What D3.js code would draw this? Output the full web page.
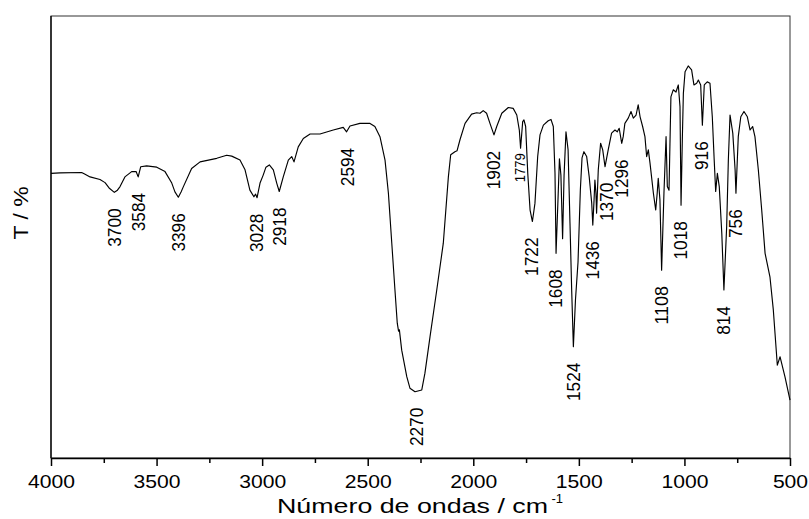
<!DOCTYPE html>
<html>
<head>
<meta charset="utf-8">
<script src="https://cdn.jsdelivr.net/npm/d3@7"></script>
<style>
    body { margin: 0; background: #fff; }
    text { font-family: "Liberation Sans", Arial, sans-serif; fill: #000; }
</style>
</head>
<body>
<div id="the_spectrum"></div>
<script>
// wavenumber (cm-1), high to low
let wavenumber = [4000, 3957, 3855, 3843, 3815, 3768, 3744, 3725, 3700, 3687, 3673, 3650, 3618, 3597, 3587, 3575,
    3547, 3499, 3460, 3428, 3413, 3397, 3384, 3373, 3334, 3294, 3215, 3168, 3144, 3105, 3081, 3058,
    3039, 3031, 3024, 3018, 3010, 2995, 2982, 2966, 2947, 2931, 2919, 2900, 2876, 2860, 2849, 2829,
    2805, 2773, 2726, 2663, 2616, 2600, 2584, 2537, 2489, 2466, 2442, 2418, 2402, 2386, 2371, 2360,
    2354, 2350, 2339, 2315, 2300, 2276, 2244, 2229, 2205, 2173, 2142, 2118, 2107, 2087, 2077, 2063,
    2039, 2008, 1984, 1968, 1953, 1937, 1921, 1902, 1889, 1865, 1834, 1811, 1794, 1782, 1776, 1766,
    1760, 1752, 1742, 1731, 1720, 1708, 1695, 1684, 1668, 1645, 1632, 1621, 1613, 1608, 1600, 1592,
    1585, 1577, 1570, 1561, 1551, 1542, 1534, 1526, 1516, 1504, 1493, 1485, 1476, 1463, 1451, 1439,
    1434, 1428, 1424, 1419, 1416, 1408, 1397, 1387, 1376, 1361, 1345, 1329, 1318, 1309, 1297, 1290,
    1282, 1266, 1253, 1242, 1229, 1219, 1210, 1198, 1187, 1179, 1171, 1163, 1147, 1136, 1129, 1124,
    1116, 1108, 1097, 1087, 1081, 1073, 1064, 1053, 1040, 1029, 1021, 1016, 1010, 1005, 997, 982,
    966, 955, 942, 934, 923, 915, 906, 892, 879, 868, 859, 852, 844, 835, 823, 813,
    800, 792, 784, 771, 760, 756, 745, 733, 718, 702, 689, 677, 666, 661, 650, 634,
    618, 595, 579, 560, 547, 524, 500];
// transmittance, arbitrary % scale
let transmittance = [64.4, 64.5, 64.6, 64.3, 63.6, 63.0, 62.3, 61.1, 60.1, 60.5, 61.4, 63.6, 64.8, 64.8, 63.6, 65.9,
    66.1, 65.8, 64.8, 62.2, 60.2, 59.0, 60.2, 61.4, 65.5, 67.0, 67.8, 68.5, 68.3, 67.4, 65.2, 60.6,
    59.1, 59.7, 58.9, 60.3, 62.2, 64.0, 65.8, 66.3, 65.2, 62.2, 60.3, 63.6, 67.4, 68.2, 67.0, 70.4,
    72.3, 73.3, 73.3, 74.2, 74.8, 73.8, 75.1, 75.7, 75.7, 75.0, 72.7, 67.4, 59.9, 48.6, 38.0, 30.5,
    28.7, 29.0, 24.4, 18.4, 15.8, 15.0, 15.4, 19.2, 27.4, 38.0, 48.6, 63.6, 68.6, 69.3, 69.5, 72.0,
    75.7, 77.8, 78.1, 78.0, 78.6, 78.0, 75.7, 73.1, 75.0, 78.0, 79.3, 79.1, 77.6, 74.2, 70.1, 76.1,
    76.5, 75.0, 64.4, 56.1, 53.5, 57.6, 68.2, 73.1, 75.3, 76.3, 76.6, 75.0, 64.4, 46.3, 56.9, 67.7,
    64.0, 49.6, 64.0, 73.8, 69.7, 53.1, 38.0, 25.2, 35.8, 44.3, 60.6, 67.9, 69.3, 68.2, 63.6, 57.6,
    52.7, 58.4, 62.9, 59.9, 55.4, 65.2, 71.2, 69.7, 65.9, 69.7, 73.5, 74.2, 73.8, 74.6, 71.2, 72.7,
    75.7, 76.9, 78.4, 76.9, 77.6, 79.9, 77.2, 75.0, 72.7, 68.2, 69.7, 66.7, 59.9, 56.1, 59.9, 63.3,
    58.4, 42.5, 59.9, 72.7, 61.4, 60.6, 81.7, 83.3, 82.8, 84.4, 79.5, 57.2, 72.0, 82.5, 87.4, 88.7,
    87.8, 84.4, 84.8, 85.5, 84.4, 75.3, 84.4, 85.1, 84.8, 77.2, 67.4, 60.3, 64.4, 61.4, 50.8, 38.0,
    52.3, 67.4, 77.6, 73.5, 65.2, 59.9, 72.7, 77.2, 78.4, 77.2, 74.2, 75.0, 72.7, 70.4, 65.2, 56.1,
    46.3, 41.0, 33.5, 21.0, 22.9, 18.4, 13.1];
// marked bands
let peakLabels = [3700, 3584, 3396, 3028, 2918, 2594, 2270, 1902, 1779, 1722, 1608, 1524, 1436, 1370, 1296,
    1108, 1018, 916, 814, 756];
let majorTicks = [4000, 3500, 3000, 2500, 2000, 1500, 1000, 500];
let minorTicks = [3750, 3250, 2750, 2250, 1750, 1250, 750];

gen_vis();

function gen_vis() {
    let margin = {top: 16, right: 19, bottom: 61, left: 51};
    let width = 809 - margin.left - margin.right;
    let height = 519 - margin.top - margin.bottom;

    let svg = d3.select("#the_spectrum")
        .append("svg")
        .attr("width", 809)
        .attr("height", 519)
        .append("g")
        .attr("transform", "translate(" + margin.left + "," + margin.top + ")");

    let x = d3.scaleLinear().domain([4000, 500]).range([0, width]);
    let y = d3.scaleLinear().domain([0, 100]).range([height, 0]);

    let data = wavenumber.map(function(d, i) { return {wn: d, t: transmittance[i]}; });

    // frame
    svg.append("rect")
        .attr("width", width)
        .attr("height", height)
        .style("fill", "none")
        .style("stroke", "#333")
        .style("stroke-width", 1);
    svg.append("line")
        .attr("x1", 0).attr("x2", 0)
        .attr("y1", 0).attr("y2", height)
        .style("stroke", "#000")
        .style("stroke-width", 1.3);

    // minor ticks
    svg.append("g")
        .attr("transform", "translate(0," + height + ")")
        .call(d3.axisBottom(x).tickValues(minorTicks).tickSize(5).tickFormat(""))
        .call(function(g) { g.select(".domain").remove(); })
        .selectAll("line").style("stroke", "#000").style("stroke-width", 1.5);

    let xAxis = svg.append("g")
        .attr("transform", "translate(0," + height + ")")
        .call(d3.axisBottom(x).tickValues(majorTicks).tickSize(8).tickSizeOuter(0).tickFormat(d3.format("d")));
    xAxis.select(".domain").style("stroke", "#000").style("stroke-width", 1.6);
    xAxis.selectAll("line").style("stroke", "#000").style("stroke-width", 1.5);
    xAxis.selectAll("text")
        .attr("y", 30)
        .attr("dy", null)
        .attr("textLength", function(d) { return String(d).length * 11.75; })
        .attr("lengthAdjust", "spacingAndGlyphs")
        .style("font-size", "18.5px")
        .style("font-family", "'Liberation Sans', Arial, sans-serif")
        .style("fill", "#000");

    // spectrum
    let line = d3.line()
        .x(function(d) { return x(d.wn); })
        .y(function(d) { return y(d.t); });
    svg.append("path")
        .datum(data)
        .attr("d", line)
        .style("fill", "none")
        .style("stroke", "#000")
        .style("stroke-width", 1.15)
        .style("stroke-linejoin", "round");

    // band labels, hung under the local minimum
    let smallLabel = {1779: true};
    svg.selectAll(".peakLabel")
        .data(peakLabels)
        .enter()
        .append("text")
        .attr("class", "peakLabel")
        .text(function(d) { return d; })
        .attr("transform", function(d) {
            let near = data.filter(function(p) { return Math.abs(p.wn - d) <= 15; });
            let tMin = d3.min(near, function(p) { return p.t; });
            let gap = smallLabel[d] ? 5 : 16;
            return "translate(" + x(d) + "," + (y(tMin) + gap) + ") rotate(-90)";
        })
        .attr("dy", "0.35em")
        .attr("textLength", function(d) { return smallLabel[d] ? 29 : String(d).length * 9.6; })
        .attr("lengthAdjust", "spacingAndGlyphs")
        .style("text-anchor", "end")
        .style("font-size", function(d) { return smallLabel[d] ? "15px" : "18px"; });

    // axis titles
    svg.append("text")
        .text("Número de ondas / cm")
        .attr("x", 226)
        .attr("y", height + 55)
        .attr("textLength", 271)
        .attr("lengthAdjust", "spacingAndGlyphs")
        .style("font-size", "20px");
    svg.append("text")
        .text("-1")
        .attr("x", 500.5)
        .attr("y", height + 45)
        .style("font-size", "13px");
    svg.append("text")
        .text("T / %")
        .attr("transform", "translate(" + (21 - margin.left) + "," + (213 - margin.top) + ") rotate(-90)")
        .attr("dy", "0.35em")
        .attr("textLength", 53)
        .attr("lengthAdjust", "spacingAndGlyphs")
        .style("text-anchor", "middle")
        .style("font-size", "20px");
}
</script>
</body>
</html>
